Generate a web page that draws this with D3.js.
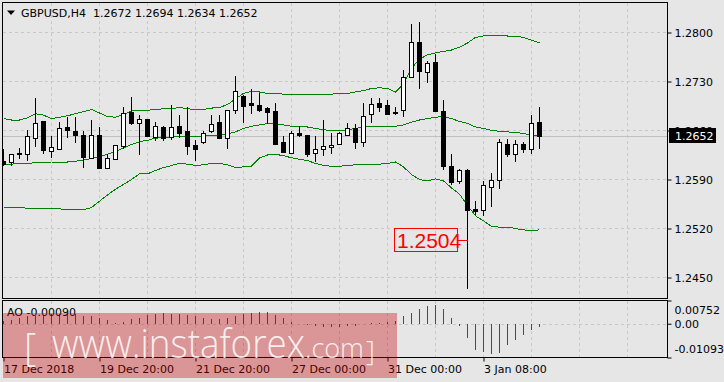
<!DOCTYPE html>
<html>
<head>
<meta charset="utf-8">
<script src="https://cdn.jsdelivr.net/npm/d3@7"></script>
<style>
body { margin: 0; background: #e6e6e6; }
svg { display: block; font-family: "DejaVu Sans", sans-serif; font-size: 11px; }
</style>
</head>
<body>
<script>
// GBPUSD H4 candles
var opens  = [1.2616,1.2615,1.2628,1.2627,1.2650,1.2673,1.2631,1.2634,1.2665,1.2660,1.2653,1.2621,1.2653,1.2607,1.2620,1.2638,1.2687,1.2671,1.2676,1.2651,1.2665,1.2651,1.2666,1.2659,1.2640,1.2644,1.2659,1.2672,1.2650,1.2690,1.2710,1.2699,1.2697,1.2692,1.2688,1.2643,1.2628,1.2657,1.2653,1.2628,1.2634,1.2637,1.2641,1.2654,1.2664,1.2644,1.2683,1.2700,1.2696,1.2687,1.2689,1.2737,1.2787,1.2744,1.2758,1.2688,1.2609,1.2588,1.2604,1.2548,1.2546,1.2580,1.2590,1.2641,1.2627,1.2641,1.2634,1.2672];
var highs  = [1.2634,1.2627,1.2635,1.2661,1.2707,1.2674,1.2652,1.2672,1.2679,1.2679,1.2660,1.2675,1.2665,1.2627,1.2640,1.2693,1.2708,1.2682,1.2677,1.2672,1.2666,1.2697,1.2682,1.2694,1.2646,1.2660,1.2682,1.2682,1.2689,1.2738,1.2711,1.2719,1.2713,1.2693,1.2699,1.2652,1.2660,1.2667,1.2654,1.2652,1.2675,1.2657,1.2658,1.2671,1.2669,1.2699,1.2707,1.2707,1.2703,1.2693,1.2746,1.2812,1.2815,1.2759,1.2770,1.2703,1.2626,1.2605,1.2605,1.2560,1.2588,1.2600,1.2648,1.2648,1.2646,1.2643,1.2682,1.2694];
var lows   = [1.2610,1.2609,1.2619,1.2616,1.2637,1.2626,1.2621,1.2632,1.2650,1.2642,1.2607,1.2621,1.2607,1.2607,1.2618,1.2633,1.2668,1.2625,1.2652,1.2645,1.2645,1.2647,1.2650,1.2625,1.2617,1.2641,1.2656,1.2649,1.2634,1.2684,1.2671,1.2684,1.2687,1.2670,1.2641,1.2629,1.2627,1.2651,1.2622,1.2615,1.2624,1.2627,1.2639,1.2653,1.2634,1.2637,1.2671,1.2687,1.2684,1.2682,1.2680,1.2736,1.2719,1.2728,1.2687,1.2603,1.2582,1.2583,1.2434,1.2540,1.2538,1.2551,1.2577,1.2622,1.2615,1.2628,1.2627,1.2634];
var closes = [1.2612,1.2627,1.2626,1.2652,1.2671,1.2632,1.2636,1.2663,1.2661,1.2654,1.2622,1.2653,1.2607,1.2621,1.2640,1.2685,1.2671,1.2677,1.2652,1.2666,1.2649,1.2665,1.2657,1.2638,1.2634,1.2657,1.2670,1.2649,1.2689,1.2716,1.2695,1.2696,1.2690,1.2687,1.2641,1.2629,1.2657,1.2654,1.2626,1.2634,1.2638,1.2640,1.2656,1.2664,1.2644,1.2681,1.2698,1.2694,1.2684,1.2685,1.2737,1.2787,1.2745,1.2757,1.2688,1.2609,1.2586,1.2603,1.2546,1.2545,1.2582,1.2590,1.2643,1.2627,1.2641,1.2634,1.2671,1.2652];

// Bollinger bands
var upperBand  = [1.2677,1.2675,1.2675,1.2678,1.2684,1.2682,1.2677,1.2679,1.2681,1.2684,1.2687,1.2690,1.2685,1.2680,1.2679,1.2683,1.2688,1.2689,1.2689,1.2690,1.2691,1.2691,1.2693,1.2691,1.2690,1.2690,1.2692,1.2693,1.2697,1.2705,1.2713,1.2716,1.2715,1.2713,1.2713,1.2712,1.2712,1.2711,1.2712,1.2712,1.2712,1.2712,1.2713,1.2713,1.2715,1.2717,1.2720,1.2721,1.2720,1.2715,1.2726,1.2749,1.2762,1.2768,1.2771,1.2773,1.2775,1.2779,1.2785,1.2793,1.2795,1.2796,1.2796,1.2795,1.2795,1.2793,1.2789,1.2785];
var middleBand = [1.2612,1.2612,1.2613,1.2613,1.2614,1.2614,1.2615,1.2615,1.2615,1.2616,1.2618,1.2620,1.2623,1.2626,1.2630,1.2635,1.2640,1.2644,1.2646,1.2649,1.2650,1.2651,1.2652,1.2652,1.2651,1.2652,1.2653,1.2653,1.2655,1.2658,1.2663,1.2666,1.2668,1.2670,1.2670,1.2668,1.2666,1.2666,1.2665,1.2663,1.2661,1.2660,1.2660,1.2661,1.2663,1.2665,1.2666,1.2666,1.2666,1.2666,1.2668,1.2672,1.2675,1.2677,1.2679,1.2680,1.2677,1.2673,1.2670,1.2665,1.2663,1.2660,1.2659,1.2658,1.2657,1.2656,1.2653,1.2652];
var lowerBand  = [1.2550,1.2550,1.2550,1.2549,1.2548,1.2548,1.2549,1.2548,1.2547,1.2547,1.2547,1.2550,1.2559,1.2568,1.2576,1.2583,1.2590,1.2598,1.2598,1.2603,1.2607,1.2610,1.2613,1.2612,1.2610,1.2611,1.2613,1.2613,1.2611,1.2607,1.2608,1.2609,1.2621,1.2625,1.2626,1.2624,1.2621,1.2619,1.2617,1.2613,1.2610,1.2609,1.2609,1.2610,1.2611,1.2611,1.2612,1.2612,1.2613,1.2615,1.2608,1.2597,1.2590,1.2588,1.2591,1.2588,1.2578,1.2569,1.2553,1.2538,1.2531,1.2523,1.2522,1.2522,1.2520,1.2518,1.2517,1.2518];

// Awesome Oscillator
var aoValues = [0.0010,0.0013,0.0018,0.0024,0.0026,0.0029,0.0030,0.0031,0.0032,0.0031,0.0025,0.0024,0.0020,0.0011,0.0002,0.0007,0.0015,0.0018,0.0029,0.0033,0.0034,0.0032,0.0033,0.0029,0.0024,0.0019,0.0016,0.0015,0.0018,0.0026,0.0031,0.0035,0.0037,0.0038,0.0029,0.0018,0.0005,-0.0001,-0.0004,-0.0008,-0.0009,-0.0010,-0.0009,-0.0008,-0.0006,-0.0001,0.0001,0.0003,0.0006,0.0010,0.0024,0.0035,0.0048,0.0056,0.0061,0.0048,0.0020,-0.0007,-0.0047,-0.0084,-0.0093,-0.0098,-0.0095,-0.0070,-0.0054,-0.0038,-0.0019,-0.0009];

var priceTicks = [1.2800, 1.2730, 1.2660, 1.2590, 1.2520, 1.2450];
var aoTicks = [0.00752, 0, -0.01093];
var aoTickLabels = ["0.00752", "0.00", "-0.01093"];
var timeTickBars = [0, 12, 24, 36, 48, 60];
var timeLabels = ["17 Dec 2018", "19 Dec 20:00", "21 Dec 20:00", "27 Dec 00:00", "31 Dec 00:00", "3 Jan 08:00"];
var lastPrice = 1.2652, markedLow = 1.2504, markedBar = 58;

var W = 724, H = 382;
var svg = d3.select("body").append("svg").attr("width", W).attr("height", H);

// plain hyphen for negatives, like the terminal
var fmt = d3.formatLocale({ decimal: ".", thousands: ",", grouping: [3], currency: ["", ""], minus: "-" });

var box = { left: 2.5, right: 667.5, top: 2.5, bottom: 298.5, subTop: 300.5, subBottom: 357.5 };

var x = d3.scaleLinear().domain([0, 83]).range([3.5, 667.5]),
	y = d3.scaleLinear().domain([1.2450, 1.2800]).range([277.5, 32.5]),
	yAO = d3.scaleLinear().domain([-0.01093, 0.00752]).range([box.subBottom, box.subTop]);

var grid = "#c8c8c8";

svg.append("clipPath").attr("id", "mainClip").append("rect")
	.attr("x", box.left).attr("y", box.top)
	.attr("width", box.right - box.left).attr("height", box.bottom - box.top);
svg.append("clipPath").attr("id", "subClip").append("rect")
	.attr("x", box.left).attr("y", box.subTop)
	.attr("width", box.right - box.left).attr("height", box.subBottom - box.subTop);

// Grid
var gridBars = d3.range(6, 84, 6);
var gGrid = svg.append("g").attr("shape-rendering", "crispEdges")
	.attr("stroke", grid).attr("stroke-dasharray", "3,3");
gGrid.selectAll("line.vm").data(gridBars).enter().append("line")
	.attr("x1", function(d){ return x(d); }).attr("x2", function(d){ return x(d); })
	.attr("y1", box.top).attr("y2", box.bottom);
gGrid.selectAll("line.vs").data(gridBars).enter().append("line")
	.attr("x1", function(d){ return x(d); }).attr("x2", function(d){ return x(d); })
	.attr("y1", box.subTop).attr("y2", box.subBottom);
gGrid.selectAll("line.h").data(priceTicks).enter().append("line")
	.attr("x1", box.left).attr("x2", box.right)
	.attr("y1", function(d){ return y(d); }).attr("y2", function(d){ return y(d); });
gGrid.append("line")
	.attr("x1", box.left).attr("x2", box.right)
	.attr("y1", Math.round(yAO(0)) + 0.5).attr("y2", Math.round(yAO(0)) + 0.5);

// current price line
svg.append("line").attr("shape-rendering", "crispEdges")
	.attr("x1", box.left).attr("x2", box.right)
	.attr("y1", Math.round(y(lastPrice)) + 0.5).attr("y2", Math.round(y(lastPrice)) + 0.5)
	.attr("stroke", "#c0c0c0");

// Bollinger bands
var plot = svg.append("g").attr("clip-path", "url(#mainClip)");
var bandLine = d3.line().x(function(d, i){ return x(i); }).y(function(d){ return y(d); });
[upperBand, middleBand, lowerBand].forEach(function(band){
	plot.append("path").attr("d", bandLine(band))
		.attr("fill", "none").attr("stroke", "#008000").attr("stroke-width", 1)
		.attr("shape-rendering", "crispEdges");
});

// Candles
var bars = d3.range(opens.length);
var candles = plot.append("g").attr("shape-rendering", "crispEdges");
candles.selectAll("line.wick").data(bars).enter().append("line")
	.attr("x1", function(i){ return x(i); }).attr("x2", function(i){ return x(i); })
	.attr("y1", function(i){ return Math.round(y(highs[i])); })
	.attr("y2", function(i){ return Math.round(y(lows[i])); })
	.attr("stroke", "#000");
candles.selectAll("rect.body").data(bars).enter().append("rect")
	.attr("x", function(i){ return x(i) - 2; })
	.attr("y", function(i){ return Math.round(y(Math.max(opens[i], closes[i]))) + 0.5; })
	.attr("width", 4)
	.attr("height", function(i){ return Math.max(0, Math.round(y(Math.min(opens[i], closes[i]))) - Math.round(y(Math.max(opens[i], closes[i])))); })
	.attr("fill", function(i){ return closes[i] >= opens[i] ? "#fff" : "#000"; })
	.attr("stroke", "#000");

// AO histogram
var aoG = svg.append("g").attr("clip-path", "url(#subClip)").attr("shape-rendering", "crispEdges");
aoG.selectAll("line").data(bars).enter().append("line")
	.attr("x1", function(i){ return x(i); }).attr("x2", function(i){ return x(i); })
	.attr("y1", yAO(0)).attr("y2", function(i){ return yAO(aoValues[i]); })
	.attr("stroke", function(i){ return (i === 0 || aoValues[i] >= aoValues[i - 1]) ? "#008000" : "#ff0000"; });

// Borders
svg.append("rect").attr("x", box.left).attr("y", box.top)
	.attr("width", box.right - box.left).attr("height", box.bottom - box.top)
	.attr("fill", "none").attr("stroke", "#000").attr("shape-rendering", "crispEdges");
svg.append("rect").attr("x", box.left).attr("y", box.subTop)
	.attr("width", box.right - box.left).attr("height", box.subBottom - box.subTop)
	.attr("fill", "none").attr("stroke", "#000").attr("shape-rendering", "crispEdges");

// Price axis
var priceAxis = svg.append("g").attr("transform", "translate(" + box.right + ",0)")
	.call(d3.axisRight(y).tickValues(priceTicks).tickSize(4).tickPadding(3).tickFormat(fmt.format(".4f")));
priceAxis.select(".domain").remove();
priceAxis.selectAll("text").attr("font-family", "DejaVu Sans").attr("font-size", 11).attr("fill", "#000");

// AO axis
var aoAxis = svg.append("g").attr("transform", "translate(" + box.right + ",0)")
	.call(d3.axisRight(yAO).tickValues(aoTicks).tickSize(4).tickPadding(3)
		.tickFormat(function(d, i){ return aoTickLabels[i]; }));
aoAxis.select(".domain").remove();
aoAxis.selectAll("text").attr("font-family", "DejaVu Sans").attr("font-size", 11).attr("fill", "#000")
	.attr("dy", function(d, i){ return ["1.15em", "0.32em", "-0.45em"][i]; });

// Time axis
var timeAxis = svg.append("g").attr("transform", "translate(0," + box.subBottom + ")")
	.call(d3.axisBottom(x).tickValues(timeTickBars).tickSize(4).tickPadding(4)
		.tickFormat(function(d, i){ return timeLabels[i]; }));
timeAxis.select(".domain").remove();
timeAxis.selectAll("text").attr("text-anchor", "start").attr("x", 0)
	.attr("font-family", "DejaVu Sans").attr("font-size", 11).attr("fill", "#000");

// Last price tag
svg.append("rect").attr("x", 669).attr("y", Math.round(y(lastPrice)) - 8)
	.attr("width", 47).attr("height", 15).attr("fill", "#000");
svg.append("text").attr("x", 675).attr("y", y(lastPrice)).attr("dy", "0.35em")
	.attr("fill", "#fff").text(fmt.format(".4f")(lastPrice));

// Marked low label
var lowY = Math.round(y(markedLow)) + 0.5;
svg.append("rect").attr("x", 394.5).attr("y", lowY - 12).attr("width", 63).attr("height", 23)
	.attr("fill", "none").attr("stroke", "#ff0000").attr("shape-rendering", "crispEdges");
svg.append("line").attr("x1", 457.5).attr("x2", x(markedBar)).attr("y1", lowY).attr("y2", lowY)
	.attr("stroke", "#ff0000").attr("shape-rendering", "crispEdges");
svg.append("text").attr("x", 397).attr("y", lowY + 7.5)
	.attr("font-family", "Liberation Sans, Arial, sans-serif").attr("font-size", 21)
	.attr("fill", "#ff0000").text(fmt.format(".4f")(markedLow));

// Title
svg.append("path").attr("d", "M7,10.5 L15,10.5 L11,15 Z").attr("fill", "#000");
svg.append("text").attr("x", 21).attr("y", 16.5).style("white-space", "pre")
	.text("GBPUSD,H4  " + [opens[67], highs[67], lows[67], closes[67]].map(fmt.format(".4f")).join(" "));

svg.append("text").attr("x", 7).attr("y", 315.5).style("white-space", "pre")
	.text("AO " + fmt.format(".5f")(aoValues[67]));

// Watermark
var wm = svg.append("g");
wm.append("rect").attr("x", 3).attr("y", 313).attr("width", 394).attr("height", 65)
	.attr("fill", "rgba(195,0,0,0.35)");
var wmText = wm.append("g").attr("fill", "#fff").attr("fill-opacity", 0.85)
	.attr("font-family", "Open Sans, sans-serif").attr("font-weight", 300);
wmText.append("text").attr("x", 24).attr("y", 361).attr("font-size", 38).text("[");
wmText.append("text").attr("x", 52).attr("y", 358).attr("font-size", 40)
	.attr("textLength", 253).attr("lengthAdjust", "spacingAndGlyphs").text("www.instaforex");
wmText.append("text").attr("x", 305).attr("y", 358).attr("font-size", 27).text(".com");
wmText.append("text").attr("x", 366).attr("y", 361).attr("font-size", 28).text("]");
</script>
</body>
</html>
